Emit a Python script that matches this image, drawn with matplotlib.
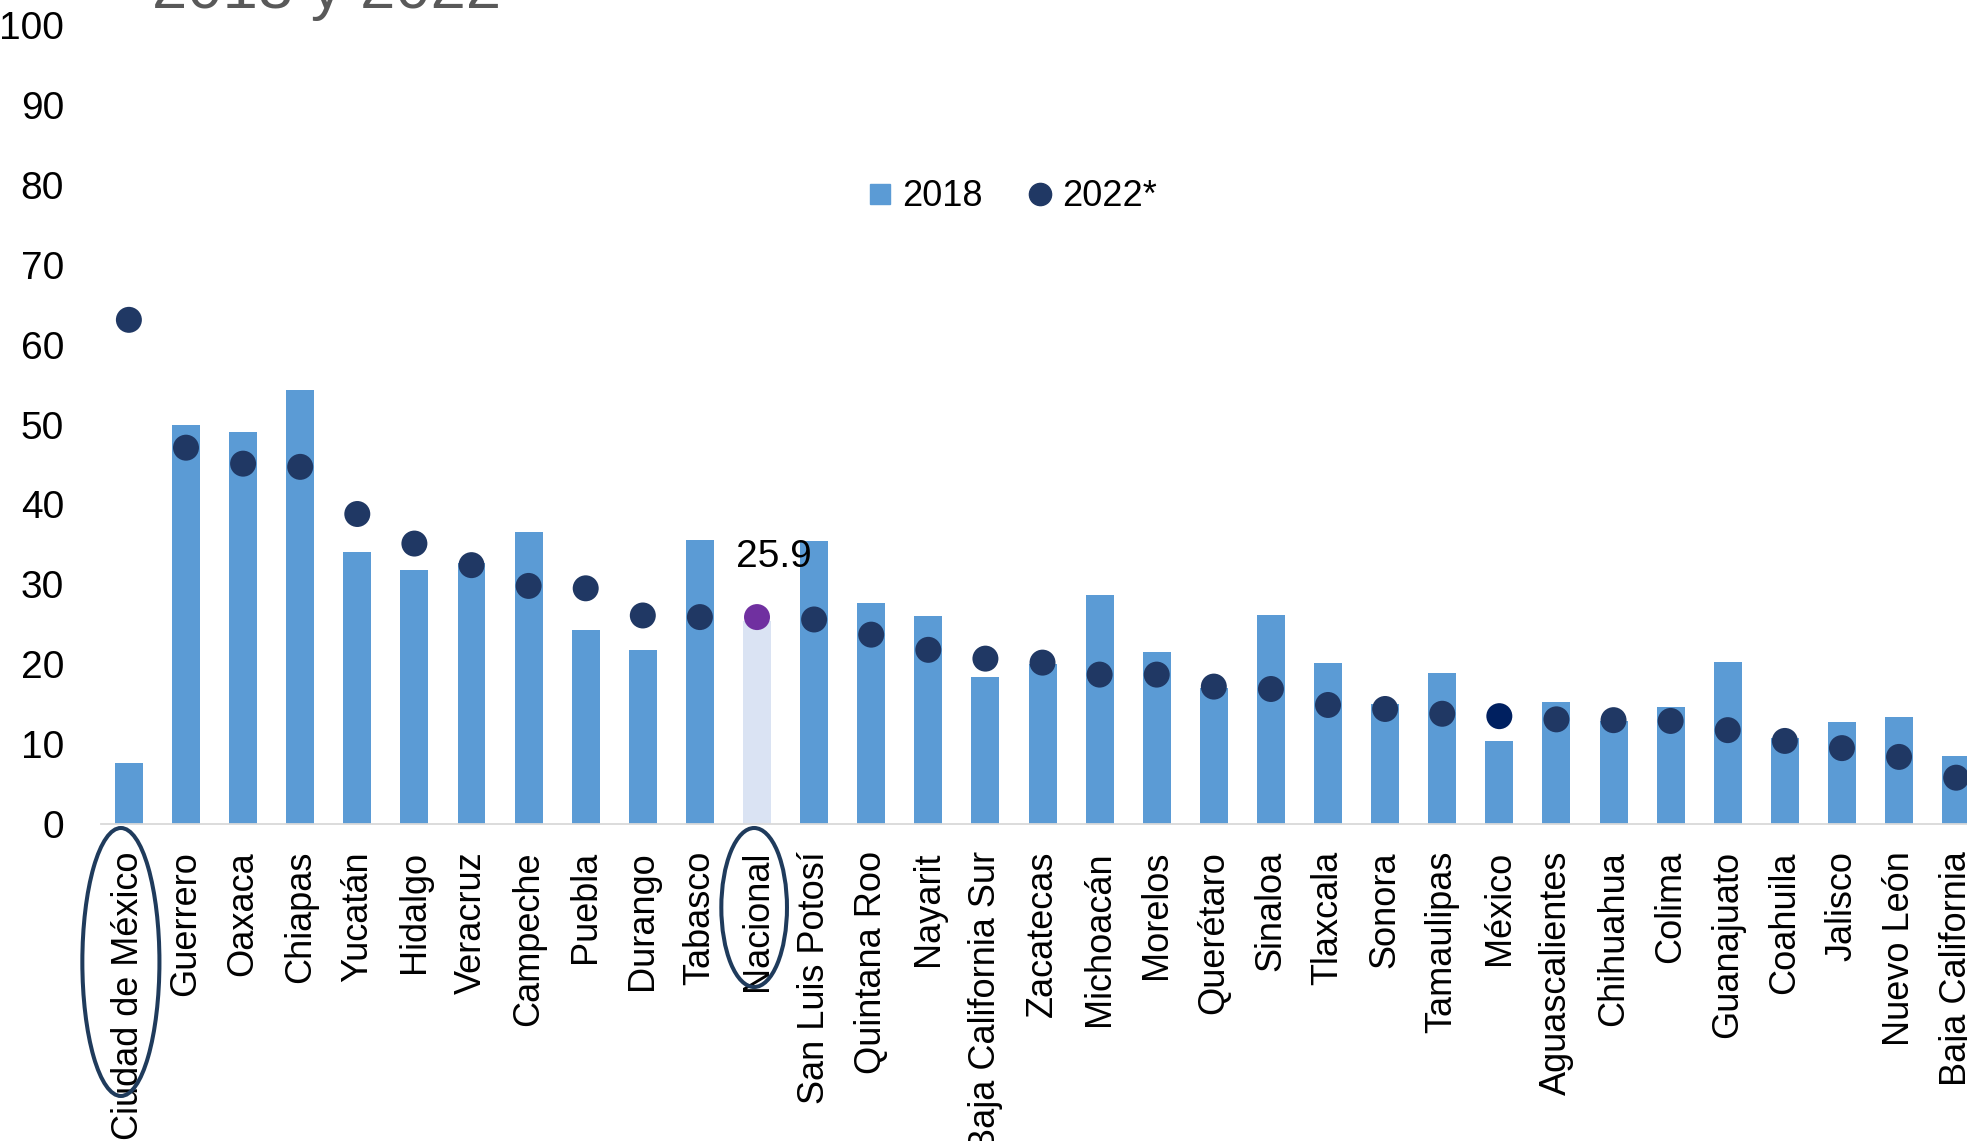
import matplotlib

matplotlib.use("Agg")

import matplotlib.pyplot as plt
import matplotlib.transforms as mtransforms
import numpy as np
from matplotlib import font_manager
from matplotlib.lines import Line2D
from matplotlib.patches import Ellipse

BASE_FONT = ["Liberation Sans", "Arial", "DejaVu Sans"]
_names = {f.name for f in font_manager.fontManager.ttflist}
NARROW_FONT = ["Liberation Sans Narrow"] + BASE_FONT if "Liberation Sans Narrow" in _names else BASE_FONT

plt.rcParams["font.family"] = BASE_FONT

states = [
    "Ciudad de México", "Guerrero", "Oaxaca", "Chiapas", "Yucatán", "Hidalgo",
    "Veracruz", "Campeche", "Puebla", "Durango", "Tabasco", "Nacional",
    "San Luis Potosí", "Quintana Roo", "Nayarit", "Baja California Sur",
    "Zacatecas", "Michoacán", "Morelos", "Querétaro", "Sinaloa", "Tlaxcala",
    "Sonora", "Tamaulipas", "México", "Aguascalientes", "Chihuahua", "Colima",
    "Guanajuato", "Coahuila", "Jalisco", "Nuevo León", "Baja California",
]
v2018 = [7.7, 49.9, 49.1, 54.3, 34.0, 31.8, 32.7, 36.5, 24.3, 21.8, 35.6,
         25.4, 35.4, 27.7, 26.0, 18.4, 20.0, 28.7, 21.5, 17.0, 26.1, 20.1,
         15.0, 18.9, 10.4, 15.3, 12.9, 14.7, 20.3, 10.8, 12.8, 13.4, 8.5]
v2022 = [63.1, 47.1, 45.1, 44.7, 38.8, 35.1, 32.4, 29.8, 29.5, 26.1, 25.9,
         25.9, 25.6, 23.7, 21.8, 20.7, 20.2, 18.7, 18.7, 17.2, 16.9, 14.9,
         14.4, 13.8, 13.5, 13.1, 13.0, 12.9, 11.75, 10.4, 9.5, 8.4, 5.8]
yticks = list(range(0, 101, 10))

BAR = "#5B9BD5"
BAR_NAC = "#DAE3F3"
DOT = "#203864"
DOT_MEX = "#002060"
DOT_NAC = "#7030A0"
RING = "#1F3B5C"

nac = states.index("Nacional")
mex = states.index("México")
cdmx = states.index("Ciudad de México")

x = np.arange(len(states))
bar_colors = [BAR_NAC if i == nac else BAR for i in x]
dot_colors = [DOT_NAC if i == nac else DOT_MEX if i == mex else DOT for i in x]

fig = plt.figure(figsize=(19.67, 11.41), dpi=100)
ax = fig.add_axes([0.0513, 0.2778, 0.9487, 0.7003])

ax.bar(x, v2018, width=0.49, color=bar_colors, zorder=2)
ax.scatter(x, v2022, s=350, color=dot_colors, zorder=3, linewidths=0)

ax.set_xlim(-0.49, 32.19)
ax.set_ylim(0, 100)
ax.set_yticks(yticks)
ax.set_yticklabels([str(t) for t in yticks], fontsize=28, family=NARROW_FONT)
ax.set_xticks(x)
ax.set_xticklabels(states, rotation=90, fontsize=26)
ax.tick_params(axis="y", length=0, pad=26.6)
ax.tick_params(axis="x", length=0, pad=19.5)
for side in ("top", "right", "left"):
    ax.spines[side].set_visible(False)
ax.spines["bottom"].set_color("#D9D9D9")
ax.spines["bottom"].set_linewidth(1.3)

# national value label
ax.annotate(f"{v2022[nac]:.1f}", xy=(nac, v2022[nac]), xytext=(12.3, 43),
            textcoords="offset points", ha="center", va="center",
            fontsize=28, family=NARROW_FONT)

# rings around the highlighted category labels
blend = mtransforms.blended_transform_factory(ax.transData, fig.transFigure)
fig.add_artist(Ellipse((cdmx - 0.14, 1 - 962 / 1141), width=1.35, height=268 / 1141,
                       transform=blend, fill=False, edgecolor=RING, lw=2.9,
                       clip_on=False))
fig.add_artist(Ellipse((nac - 0.05, 1 - 907.5 / 1141), width=1.15, height=159 / 1141,
                       transform=blend, fill=False, edgecolor=RING, lw=2.9,
                       clip_on=False))

handles = [
    Line2D([0], [0], marker="s", ls="none", mfc=BAR, mec=BAR, ms=15, label="2018"),
    Line2D([0], [0], marker="o", ls="none", mfc=DOT, mec=DOT, ms=16, label="2022*"),
]
fig.legend(handles=handles, loc="center", bbox_to_anchor=(0.515, 0.8276), ncol=2,
           frameon=False, fontsize=26, handlelength=0.6, handletextpad=0.3,
           columnspacing=1.3)

fig.text(0.0771, 1 - 8.3 / 1141, "2018 y 2022", fontsize=45.6, color="#595959",
         ha="left", va="baseline")

fig.savefig("out.png", dpi=100)
